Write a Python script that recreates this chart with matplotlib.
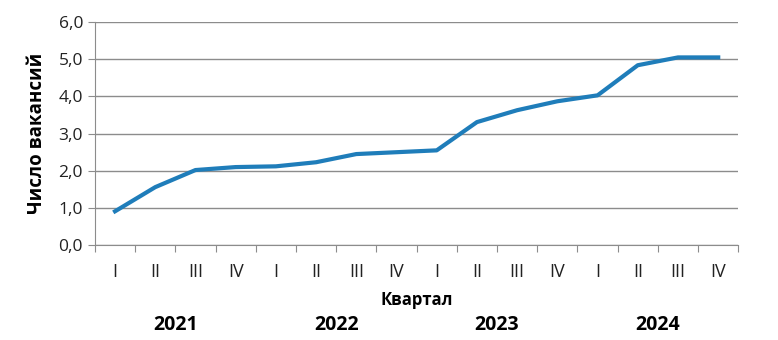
import matplotlib.pyplot as plt
import matplotlib.transforms as mtransforms

plt.rcParams['font.family'] = ['Open Sans', 'DejaVu Sans']

kvartaly = ["I", "II", "III", "IV"] * 4
gody = ["2021", "2022", "2023", "2024"]
vakansii = [0.91, 1.56, 2.02, 2.10, 2.12, 2.23, 2.45, 2.50,
            2.55, 3.31, 3.63, 3.87, 4.03, 4.84, 5.05, 5.05]

fig = plt.figure(figsize=(7.78, 3.4), dpi=100)
ax = fig.add_axes([0.122, 0.279, 0.827, 0.656])

x = list(range(len(vakansii)))
ax.plot(x, vakansii, color="#1F7DBA", linewidth=3.0, solid_joinstyle="round")

ax.set_xlim(-0.5, len(vakansii) - 0.5)
ax.set_ylim(0, 6)
ax.set_yticks(range(7))
ax.set_yticklabels([f"{v},0" for v in range(7)])
ax.grid(axis="y", color="#8C8C8C", linewidth=1.0)
ax.set_axisbelow(True)

# подписи кварталов между делениями
ax.set_xticks([i + 0.5 for i in range(-1, len(vakansii))])
ax.set_xticklabels([])
ax.set_xticks(x, minor=True)
ax.set_xticklabels(kvartaly, minor=True)
ax.tick_params(axis="x", which="minor", length=0, pad=13, labelsize=13, labelcolor="#222222")
ax.tick_params(axis="x", which="major", length=5, color="#8C8C8C")
ax.tick_params(axis="y", length=5, color="#8C8C8C", labelsize=12.5, labelcolor="#222222")

for s in ["top", "right"]:
    ax.spines[s].set_visible(False)
for s in ["left", "bottom"]:
    ax.spines[s].set_color("#8C8C8C")

ax.set_ylabel("Число вакансий", fontsize=13.5, fontweight="bold", labelpad=8)
ax.set_xlabel("Квартал", fontsize=12, fontweight="bold", va="center")
ax.xaxis.set_label_coords(0.5, -0.247)

trans = mtransforms.blended_transform_factory(ax.transData, ax.transAxes)
for k, g in enumerate(gody):
    ax.text(1.5 + 4 * k, -0.359, g, transform=trans, ha="center", va="center",
            fontsize=14, fontweight="bold")

fig.savefig("out.png", dpi=100)
